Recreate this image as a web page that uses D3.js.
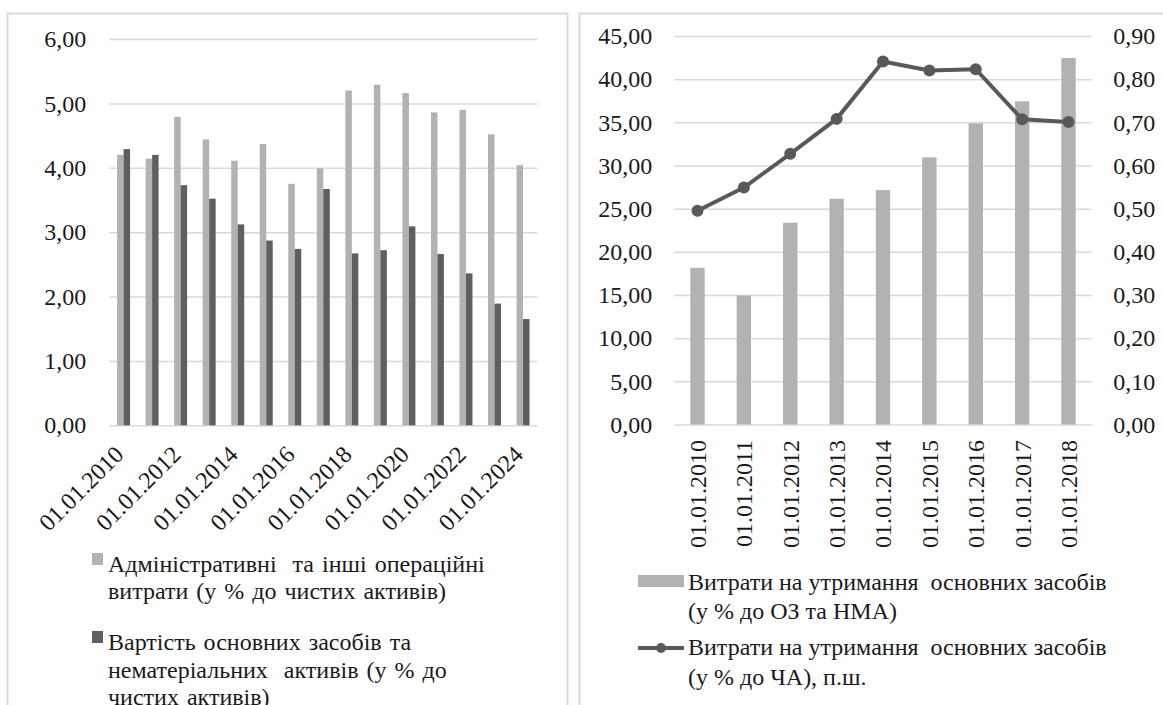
<!DOCTYPE html>
<html>
<head>
<meta charset="utf-8">
<script src="https://cdn.jsdelivr.net/npm/d3@7"></script>
<style>
  html, body { margin: 0; padding: 0; background: #fff; }
  svg { display: block; }
</style>
</head>
<body>
<svg id="chart" width="1163" height="705"></svg>
<script>
// ---------- DATA ----------
const leftCategories = ["01.01.2010","01.01.2011","01.01.2012","01.01.2013","01.01.2014","01.01.2015","01.01.2016","01.01.2017","01.01.2018","01.01.2019","01.01.2020","01.01.2021","01.01.2022","01.01.2023","01.01.2024"];
const adminCosts  = [4.20, 4.14, 4.79, 4.44, 4.11, 4.37, 3.75, 3.99, 5.20, 5.29, 5.16, 4.86, 4.90, 4.52, 4.04];
const fixedAssets = [4.29, 4.20, 3.73, 3.52, 3.12, 2.87, 2.74, 3.67, 2.67, 2.72, 3.09, 2.66, 2.36, 1.89, 1.65];
const leftTicks = [0, 1, 2, 3, 4, 5, 6];
const leftLegend1 = ["Адміністративні  та інші операційні", "витрати (у % до чистих активів)"];
const leftLegend2 = ["Вартість основних засобів та", "нематеріальних  активів (у % до", "чистих активів)"];

const rightCategories = ["01.01.2010","01.01.2011","01.01.2012","01.01.2013","01.01.2014","01.01.2015","01.01.2016","01.01.2017","01.01.2018"];
const maintenanceToAssets = [18.15, 14.95, 23.37, 26.15, 27.15, 30.94, 34.88, 37.43, 42.45];
const maintenanceToNA     = [0.495, 0.549, 0.627, 0.708, 0.841, 0.820, 0.823, 0.707, 0.701];
const rightTicksLeft  = [0, 5, 10, 15, 20, 25, 30, 35, 40, 45];
const rightTicksRight = [0, 0.1, 0.2, 0.3, 0.4, 0.5, 0.6, 0.7, 0.8, 0.9];
const rightLegend1 = ["Витрати на утримання  основних засобів", "(у % до ОЗ та НМА)"];
const rightLegend2 = ["Витрати на утримання  основних засобів", "(у % до ЧА), п.ш."];

// ---------- STYLE ----------
const LIGHT = "#b2b2b2", DARK = "#5f5f5f", LINE = "#595959", GRID = "#d9d9d9", BORDER = "#d9d9d9";
const TXT = "#1a1a1a";
const FS = 24;
const FONT = '"Liberation Serif"';
const locale = d3.formatLocale({decimal: ",", thousands: " ", grouping: [3], currency: ["", ""]});
const fmt2 = locale.format(".2f");

const svg = d3.select("#chart");

// Panel borders
svg.append("rect").attr("x", 7.5).attr("y", 13.5).attr("width", 560).attr("height", 720)
  .attr("fill", "none").attr("stroke", BORDER).attr("stroke-width", 2);
svg.append("rect").attr("x", 579.5).attr("y", 13.5).attr("width", 620).attr("height", 720)
  .attr("fill", "none").attr("stroke", BORDER).attr("stroke-width", 2);

function styleAxisText(s) {
  s.select(".domain").remove();
  s.selectAll("text").attr("font-size", FS).attr("font-family", FONT).attr("fill", TXT);
}

function legendText(parent, x, y, lines, step, ws) {
  lines.forEach((t, i) => {
    parent.append("text").attr("x", x).attr("y", y + i * step)
      .attr("font-size", FS).attr("font-family", FONT).attr("fill", TXT)
      .attr("word-spacing", ws || 0)
      .attr("xml:space", "preserve").style("white-space", "pre").text(t);
  });
}

// ---------- LEFT CHART ----------
{
  const x = d3.scaleBand().domain(leftCategories).range([109.3, 537.3]).paddingInner(0.545).paddingOuter(0.2725);
  const xs = d3.scaleBand().domain(["a", "b"]).range([0, x.bandwidth()]);
  const y = d3.scaleLinear().domain([0, 6]).range([425.3, 39]);
  const g = svg.append("g");

  g.append("g").attr("transform", "translate(109.3,0)")
    .call(d3.axisLeft(y).tickValues(leftTicks).tickSize(-428).tickFormat(""))
    .call(s => s.select(".domain").remove())
    .call(s => s.selectAll("line").attr("stroke", GRID).attr("stroke-width", 1.5));

  g.append("g").attr("transform", "translate(109.3,0)")
    .call(d3.axisLeft(y).tickValues(leftTicks).tickSize(0).tickPadding(23).tickFormat(fmt2))
    .call(styleAxisText);

  const groups = g.selectAll(".cat").data(leftCategories).join("g")
    .attr("transform", d => `translate(${x(d)},0)`);
  groups.append("rect").attr("x", xs("a")).attr("width", xs.bandwidth())
    .attr("y", (d, i) => y(adminCosts[i])).attr("height", (d, i) => y(0) - y(adminCosts[i])).attr("fill", LIGHT);
  groups.append("rect").attr("x", xs("b")).attr("width", xs.bandwidth())
    .attr("y", (d, i) => y(fixedAssets[i])).attr("height", (d, i) => y(0) - y(fixedAssets[i])).attr("fill", DARK);

  g.append("g").selectAll("text").data(leftCategories.filter((d, i) => i % 2 === 0)).join("text")
    .attr("transform", d => `translate(${x(d) + x.bandwidth() / 2 + 1.5},${456}) rotate(-45)`)
    .attr("text-anchor", "end").attr("font-size", FS).attr("font-family", FONT).attr("fill", TXT).text(d => d);

  const lg = svg.append("g");
  lg.append("rect").attr("x", 92).attr("y", 553).attr("width", 11).attr("height", 12).attr("fill", LIGHT);
  legendText(lg, 108, 572, leftLegend1, 26.6, 2);
  lg.append("rect").attr("x", 92).attr("y", 631).attr("width", 11).attr("height", 12).attr("fill", DARK);
  legendText(lg, 108, 650, leftLegend2, 27.5, 2);
}

// ---------- RIGHT CHART ----------
{
  const x = d3.scaleBand().domain(rightCategories).range([674.3, 1091.7]).paddingInner(0.69).paddingOuter(0.345);
  const y = d3.scaleLinear().domain([0, 45]).range([424.5, 36]);
  const y2 = d3.scaleLinear().domain([0, 0.9]).range([424.5, 36]);
  const g = svg.append("g");

  g.append("g").attr("transform", "translate(674.3,0)")
    .call(d3.axisLeft(y).tickValues(rightTicksLeft).tickSize(-417.4).tickFormat(""))
    .call(s => s.select(".domain").remove())
    .call(s => s.selectAll("line").attr("stroke", GRID).attr("stroke-width", 1.5));

  g.append("g").attr("transform", "translate(674.3,0)")
    .call(d3.axisLeft(y).tickValues(rightTicksLeft).tickSize(0).tickPadding(22).tickFormat(fmt2))
    .call(styleAxisText);

  g.append("g").attr("transform", "translate(1091.7,0)")
    .call(d3.axisRight(y2).tickValues(rightTicksRight).tickSize(0).tickPadding(21.6).tickFormat(fmt2))
    .call(styleAxisText);

  g.append("g").selectAll("rect").data(rightCategories).join("rect")
    .attr("x", d => x(d)).attr("width", x.bandwidth())
    .attr("y", (d, i) => y(maintenanceToAssets[i])).attr("height", (d, i) => y(0) - y(maintenanceToAssets[i]))
    .attr("fill", LIGHT);

  const cx = d => x(d) + x.bandwidth() / 2;
  const line = d3.line().x((d, i) => cx(rightCategories[i])).y(d => y2(d));
  g.append("path").datum(maintenanceToNA).attr("d", line).attr("fill", "none")
    .attr("stroke", LINE).attr("stroke-width", 4).attr("stroke-linejoin", "round");
  g.append("g").selectAll("circle").data(maintenanceToNA).join("circle")
    .attr("cx", (d, i) => cx(rightCategories[i])).attr("cy", d => y2(d)).attr("r", 6).attr("fill", LINE);

  g.append("g").selectAll("text").data(rightCategories).join("text")
    .attr("transform", d => `translate(${cx(d)},${440}) rotate(-90)`)
    .attr("dy", "0.35em").attr("text-anchor", "end").attr("font-size", FS)
    .attr("font-family", FONT).attr("fill", TXT).text(d => d);

  const lg = svg.append("g");
  lg.append("rect").attr("x", 638).attr("y", 575).attr("width", 46).attr("height", 12).attr("fill", LIGHT);
  legendText(lg, 688, 590, rightLegend1, 29);
  lg.append("line").attr("x1", 638).attr("x2", 684).attr("y1", 648).attr("y2", 648)
    .attr("stroke", LINE).attr("stroke-width", 4);
  lg.append("circle").attr("cx", 661).attr("cy", 648).attr("r", 5).attr("fill", LINE);
  legendText(lg, 688, 655, rightLegend2, 30);
}
</script>
</body>
</html>
